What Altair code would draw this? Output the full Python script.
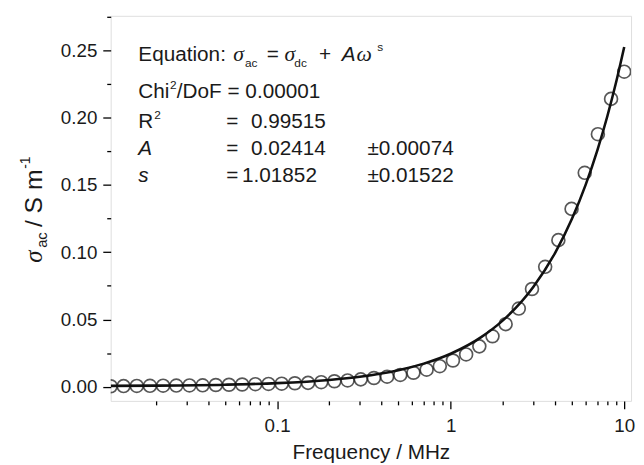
import altair as alt
import pandas as pd

# ---- data ----
freq = [0.011, 0.01305, 0.01555, 0.01852, 0.02205, 0.02627, 0.03128, 0.03725, 0.04437, 0.05284,
        0.06293, 0.07495, 0.08926, 0.1063, 0.1266, 0.1508, 0.1796, 0.2139, 0.2548, 0.3034,
        0.3614, 0.4304, 0.5126, 0.6105, 0.727, 0.8658, 1.031, 1.228, 1.463, 1.742,
        2.074, 2.47, 2.942, 3.504, 4.174, 4.973, 5.922, 7.052, 8.398, 10.0]
sigma = [0.0004, 0.0005, 0.0006, 0.0007, 0.0008, 0.0009, 0.0010, 0.0011, 0.0013, 0.0015,
         0.0017, 0.0019, 0.0021, 0.0023, 0.0026, 0.0029, 0.0034, 0.0041, 0.0047, 0.0055,
         0.0065, 0.0075, 0.0088, 0.0104, 0.0127, 0.0153, 0.0195, 0.0240, 0.0300, 0.0375,
         0.0465, 0.0581, 0.0726, 0.0891, 0.1089, 0.1321, 0.1589, 0.1876, 0.2138, 0.2340]

fit_freq = [0.011, 0.02, 0.05, 0.1, 0.2, 0.3, 0.5, 0.7, 1, 1.5, 2, 3, 4, 5, 6, 7, 8, 9, 10]
fit_sigma = [0.00065, 0.00085, 0.00154, 0.00271, 0.00509, 0.00748, 0.01232, 0.01719, 0.02454,
             0.03688, 0.0493, 0.07431, 0.09947, 0.12475, 0.15013, 0.17558, 0.2011, 0.22668, 0.2523]

x_ticks = [0.02, 0.03, 0.04, 0.05, 0.06, 0.07, 0.08, 0.09, 0.1,
           0.2, 0.3, 0.4, 0.5, 0.6, 0.7, 0.8, 0.9, 1,
           2, 3, 4, 5, 6, 7, 8, 9, 10]
x_labelled = [0.1, 1, 10]
y_ticks = [0.0, 0.025, 0.05, 0.075, 0.10, 0.125, 0.15, 0.175, 0.20, 0.225, 0.25, 0.275]

FONT = "Liberation Sans"
SERIF = "Liberation Serif"
TXT = "#1a1a1a"

pts = pd.DataFrame({"f": freq, "s": sigma})
fit = pd.DataFrame({"f": fit_freq, "s": fit_sigma})

xscale = alt.Scale(type="log", domain=[0.011, 10.95], nice=False)
yscale = alt.Scale(domain=[-0.0105, 0.2755], nice=False, zero=False)

x_major_test = " || ".join(f"datum.value == {v}" for v in x_labelled)
y_major_test = "round(datum.value * 1000) % 50 == 0"

x_axis = alt.Axis(
    orient="bottom", values=x_ticks,
    labelExpr=f"({x_major_test}) ? format(datum.value, '~g') : ''",
    tickSize={"condition": {"test": x_major_test, "value": 8}, "value": 4},
    labelFontSize=19, labelPadding=8, title="Frequency / MHz",
    titleFontSize=21, titleFontWeight="normal", titlePadding=6,
    domain=False, grid=False, tickColor="black", tickWidth=1.3,
    labelColor=TXT, titleColor=TXT, labelFont=FONT, titleFont=FONT,
)
y_axis = alt.Axis(
    orient="left", values=y_ticks,
    labelExpr=f"({y_major_test}) ? format(datum.value, '.2f') : ''",
    tickSize={"condition": {"test": y_major_test, "value": 8}, "value": 4},
    labelFontSize=19, labelPadding=6, title=None,
    domain=False, grid=False, tickColor="black", tickWidth=1.3,
    labelColor=TXT, labelFont=FONT,
)

points = alt.Chart(pts).mark_point(
    shape="circle", filled=False, size=170, strokeWidth=1.7, color="#111", clip=True
).encode(
    x=alt.X("f:Q", scale=xscale, axis=x_axis),
    y=alt.Y("s:Q", scale=yscale, axis=y_axis),
)

line = alt.Chart(fit).mark_line(
    color="#111", strokeWidth=2.6, interpolate="monotone", clip=True
).encode(
    x=alt.X("f:Q", scale=xscale, axis=x_axis),
    y=alt.Y("s:Q", scale=yscale, axis=y_axis),
)


def txt(s, x, y, size=21, style="normal", font=FONT, angle=0):
    return alt.Chart(pd.DataFrame({"t": [s]})).mark_text(
        align="left", baseline="alphabetic", fontSize=size, fontStyle=style,
        font=font, angle=angle, color=TXT
    ).encode(x=alt.value(x), y=alt.value(y), text="t:N")


notes = [
    # Equation row
    txt("Equation:", 28, 46),
    txt("σ", 124, 46, size=22, style="italic", font=SERIF),
    txt("ac", 136, 52, size=12),
    txt("=", 158, 46),
    txt("σ", 176, 46, size=22, style="italic", font=SERIF),
    txt("dc", 186, 52, size=12),
    txt("+", 211, 46),
    txt("A", 234, 46, style="italic"),
    txt("ω", 249, 46, size=22, style="italic", font=SERIF),
    txt("s", 270, 36, size=12),
    # Chi2/DoF row
    txt("Chi", 28, 83),
    txt("2", 60, 74, size=12),
    txt("/DoF = 0.00001", 67, 83),
    # R2 row
    txt("R", 28, 114),
    txt("2", 44, 105, size=12),
    txt("=", 117, 114),
    txt("0.99515", 142, 114),
    # A row
    txt("A", 28, 141, style="italic"),
    txt("=", 117, 141),
    txt("0.02414", 142, 141),
    txt("±0.00074", 260, 141),
    # s row
    txt("s", 28, 168, style="italic"),
    txt("=", 117, 168),
    txt("1.01852", 133, 168),
    txt("±0.01522", 260, 168),
    # rotated y-axis title
    txt("σ", -70, 250, size=25, style="italic", font=SERIF, angle=270),
    txt("ac", -65, 235, size=15, angle=270),
    txt("/ S m", -70, 214, size=25, angle=270),
    txt("-1", -82, 155, size=14, angle=270),
]

chart = alt.layer(line, points, *notes).properties(
    width=527, height=390,
    autosize=alt.AutoSizeParams(type="none"),
    padding={"left": 104, "top": 5, "right": 5, "bottom": 62},
).configure_view(
    stroke="black", strokeWidth=1.5
).configure(background="white")

chart.save("out.html", embed_options={"renderer": "svg", "actions": False})
